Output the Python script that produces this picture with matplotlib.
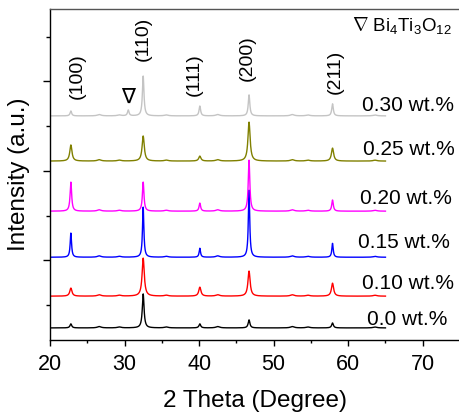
import numpy as np
import matplotlib
matplotlib.use("Agg")
import matplotlib.pyplot as plt
from matplotlib.ticker import FixedLocator

plt.rcParams['font.family'] = ['Liberation Sans', 'DejaVu Sans']
plt.rcParams['mathtext.fontset'] = 'custom'
plt.rcParams['mathtext.rm'] = 'Liberation Sans'
plt.rcParams['mathtext.it'] = 'Liberation Sans:italic'

# sample names, colours and vertical offsets of each pattern
samples = ["0.0 wt.%", "0.10 wt.%", "0.15 wt.%", "0.20 wt.%", "0.25 wt.%", "0.30 wt.%"]
colors = ["black", "#FF0000", "#0000FF", "#FF00FF", "#808000", "#C4C4C4"]
baselines = [-0.51, 0.20, 1.07, 2.10, 3.22, 4.23]

# reflection positions (2 theta) and peak heights above baseline
peak_pos = [22.8, 32.5, 40.1, 46.7, 57.9]
peak_heights = [
    [0.09, 0.76, 0.09, 0.18, 0.11],
    [0.18, 0.85, 0.20, 0.56, 0.29],
    [0.54, 1.12, 0.20, 1.50, 0.31],
    [0.65, 0.65, 0.18, 1.14, 0.25],
    [0.36, 0.56, 0.11, 0.87, 0.29],
    [0.11, 0.89, 0.22, 0.47, 0.27],
]
peak_fwhm = [0.28, 0.35, 0.22, 0.25, 0.35, 0.25]

# Bi4Ti3O12 secondary phase peak, only in the 0.30 wt.% sample
bit_pos = 30.5
bit_heights = [0, 0, 0, 0, 0, 0.13]

# small background bumps
bump_pos = [26.6, 29.3, 35.6, 42.5, 52.5, 54.6, 63.6]
bump_heights = [0.03, 0.02, 0.02, 0.03, 0.03, 0.02, 0.02]

hkl = ["(100)", "(110)", "(111)", "(200)", "(211)"]
hkl_x = [23.6, 32.5, 39.4, 46.4, 58.2]
hkl_y = [5.12, 5.95, 5.16, 5.52, 5.21]
label_x = [62.5, 61.85, 61.3, 61.6, 62.0, 61.85]
label_y = [-0.33, 0.49, 1.39, 2.39, 3.47, 4.47]

two_theta = np.arange(20, 65.01, 0.02)


def pattern(base, heights, fwhm, extra):
    y = np.full_like(two_theta, base)
    g = fwhm / 2
    for p, h in zip(peak_pos, heights):
        y += h * g**2 / ((two_theta - p) ** 2 + g**2)
    for p, h in zip(bump_pos, bump_heights):
        y += h * 0.3**2 / ((two_theta - p) ** 2 + 0.3**2)
    if extra:
        y += extra * g**2 / ((two_theta - bit_pos) ** 2 + g**2)
    return y


fig = plt.figure(figsize=(4.6, 4.12), dpi=100)
ax = fig.add_axes([50 / 460, 72 / 412, 410 / 460, 331 / 412])

for i in range(len(samples)):
    y = pattern(baselines[i], peak_heights[i], peak_fwhm[i], bit_heights[i])
    ax.plot(two_theta, y, color=colors[i], lw=1.0)
    ax.text(label_x[i], label_y[i], samples[i], fontsize=15, va='center', ha='left')

for t, x, y in zip(hkl, hkl_x, hkl_y):
    ax.text(x, y, t, rotation=90, fontsize=14, ha='center', va='center')

ax.text(30.5, 4.65, "\u2207", fontsize=15, ha='center', va='center',
        family=['DejaVu Sans'])
ax.text(60.5, 6.26, r"$\nabla$ Bi$_4$Ti$_3$O$_{12}$", fontsize=13.5,
        ha='left', va='center')

ax.set_xlim(20, 75)
ax.set_ylim(-0.78, 6.62)
ax.set_xticks([20, 30, 40, 50, 60, 70])
ax.xaxis.set_minor_locator(FixedLocator([25, 35, 45, 55, 65]))
ax.set_yticks([1, 3, 5])
ax.yaxis.set_minor_locator(FixedLocator([0, 2, 4, 6]))
ax.set_yticklabels([])
ax.tick_params(axis='x', which='major', direction='out', length=4, width=1,
               labelsize=15.5, pad=6)
ax.tick_params(axis='x', which='minor', direction='out', length=2, width=1)
ax.tick_params(axis='y', which='major', direction='out', length=5, width=1)
ax.tick_params(axis='y', which='minor', direction='out', length=3, width=1)
ax.spines['right'].set_visible(False)
for s in ['left', 'bottom', 'top']:
    ax.spines[s].set_linewidth(1.0)
ax.spines['top'].set_color('#555555')

ax.set_xlabel("2 Theta (Degree)", fontsize=17.5, labelpad=11)
ax.set_ylabel("Intensity (a.u.)", fontsize=17.5, labelpad=6)

fig.savefig("out.png", dpi=100)
